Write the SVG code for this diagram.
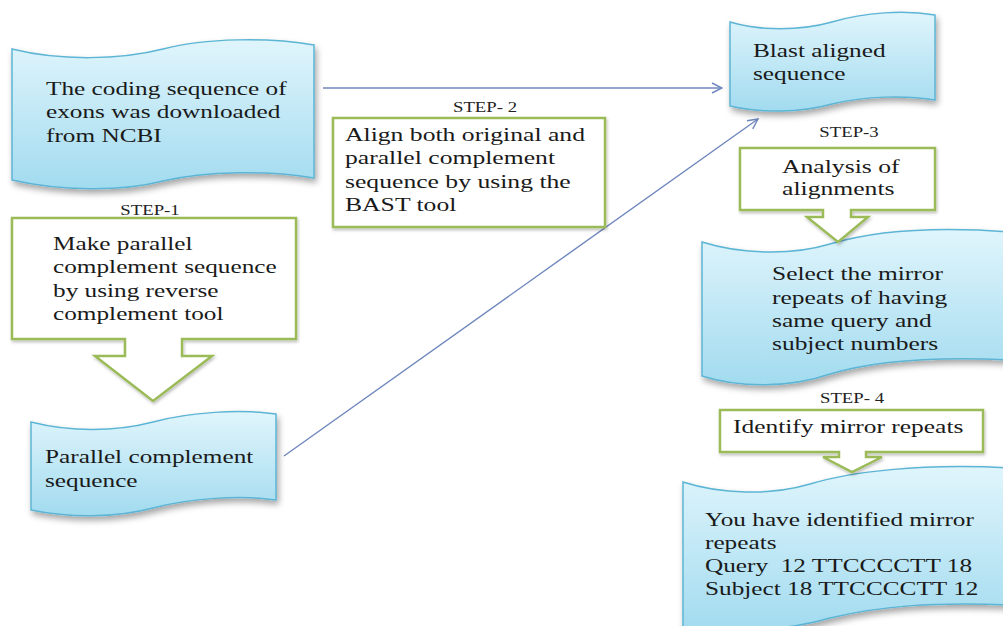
<svg xmlns="http://www.w3.org/2000/svg" width="1003" height="626" viewBox="0 0 1003 626">
<defs>
<linearGradient id="tapeFill" x1="0" y1="0" x2="0" y2="1">
<stop offset="0" stop-color="#e0f5fc"/>
<stop offset="1" stop-color="#a2dbef"/>
</linearGradient>
<filter id="sh" x="-10%" y="-10%" width="130%" height="140%">
<feDropShadow dx="2" dy="4" stdDeviation="3" flood-color="#000" flood-opacity="0.35"/>
</filter>
<filter id="sh2" x="-10%" y="-10%" width="130%" height="140%">
<feDropShadow dx="1" dy="2" stdDeviation="1.5" flood-color="#000" flood-opacity="0.25"/>
</filter>
<marker id="arr" viewBox="0 0 12 12" refX="11" refY="6" markerWidth="12" markerHeight="12" markerUnits="userSpaceOnUse" orient="auto">
<path d="M1,1 L11,6 L1,11" fill="none" stroke="#6f87bd" stroke-width="1.4"/>
</marker>
</defs>
<style>
.tape{fill:url(#tapeFill);stroke:#5db5d5;stroke-width:1.5;filter:url(#sh)}
.call{fill:#ffffff;stroke:#9bbb59;stroke-width:2.5;filter:url(#sh2)}
.t{font-family:"Liberation Serif","Times New Roman",serif;font-size:19px;fill:#1a1a1a;white-space:pre}
.s{font-family:"Liberation Serif","Times New Roman",serif;font-size:15px;fill:#222;text-anchor:middle}
.c{fill:none;stroke:#6f87bd;stroke-width:1.4}
</style>
<rect width="1003" height="626" fill="#ffffff"/>

<g id="connectors">
<path class="c" d="M323,88 L722,88" marker-end="url(#arr)"/>
<path class="c" d="M284,456 L758,119" marker-end="url(#arr)"/>
</g>

<g id="node1">
<path class="tape" d="M12,49 C60,61 120,60 163,49 C205,38 270,37 314,45 L314,178 C270,170 205,171 163,181 C120,192 60,191 12,180 Z"/>
<text class="t" transform="matrix(1.33 0 0 1 46 0)"><tspan x="0" y="95">The coding sequence of</tspan><tspan x="0" y="118.5">exons was downloaded</tspan><tspan x="0" y="142">from NCBI</tspan></text>
</g>

<g id="step1">
<text class="s" transform="matrix(1.25 0 0 1 150 0)" x="0" y="215">STEP-1</text>
</g>

<g id="node2">
<path class="call" d="M12,218 H296 V339 H182 V356 H212 L153,401 L95,356 H125 V339 H12 Z"/>
<text class="t" transform="matrix(1.33 0 0 1 53 0)"><tspan x="0" y="250">Make parallel</tspan><tspan x="0" y="273.5">complement sequence</tspan><tspan x="0" y="297">by using reverse</tspan><tspan x="0" y="320.5">complement tool</tspan></text>
</g>

<g id="node3">
<path class="tape" d="M31,422 C70,432 115,432 153,422 C190,412 240,409 276,414 L276,500 C240,495 190,498 153,508 C115,518 70,518 31,510 Z"/>
<text class="t" transform="matrix(1.33 0 0 1 45 0)"><tspan x="0" y="463">Parallel complement</tspan><tspan x="0" y="487">sequence</tspan></text>
</g>

<g id="step2">
<text class="s" transform="matrix(1.25 0 0 1 485 0)" x="0" y="112">STEP- 2</text>
</g>

<g id="node4">
<rect class="call" x="333" y="118" width="272" height="109"/>
<text class="t" transform="matrix(1.35 0 0 1 345 0)"><tspan x="0" y="141">Align both original and</tspan><tspan x="0" y="164.5">parallel complement</tspan><tspan x="0" y="188">sequence by using the</tspan><tspan x="0" y="211.5">BAST tool</tspan></text>
</g>

<g id="node5">
<path class="tape" d="M730,22 C760,31 800,31 832,22 C865,12 905,10 935,15 L935,100 C905,95 865,96 832,104 C800,113 760,113 730,106 Z"/>
<text class="t" transform="matrix(1.33 0 0 1 753 0)"><tspan x="0" y="57">Blast aligned</tspan><tspan x="0" y="80">sequence</tspan></text>
</g>

<g id="step3">
<text class="s" transform="matrix(1.25 0 0 1 849 0)" x="0" y="137">STEP-3</text>
</g>

<g id="node7">
<path class="tape" d="M702,242 C740,254 790,256 830,244 C870,232 930,226 1010,232 L1010,360 C930,356 870,362 830,374 C790,388 740,388 702,376 Z"/>
<text class="t" transform="matrix(1.34 0 0 1 772 0)"><tspan x="0" y="280">Select the mirror</tspan><tspan x="0" y="304">repeats of having</tspan><tspan x="0" y="327">same query and</tspan><tspan x="0" y="350">subject numbers</tspan></text>
</g>

<g id="node6">
<path class="call" d="M740,148 H935 V210 H851 V217 H868 L838,242 L807,217 H823 V210 H740 Z"/>
<text class="t" transform="matrix(1.35 0 0 1 782 0)"><tspan x="0" y="173">Analysis of</tspan><tspan x="0" y="195">alignments</tspan></text>
</g>

<g id="step4">
<text class="s" transform="matrix(1.25 0 0 1 852 0)" x="0" y="403">STEP- 4</text>
</g>

<g id="node9">
<path class="tape" d="M683,482 C720,494 770,496 810,484 C850,472 920,463 1010,468 L1010,605 C930,602 880,606 830,618 C790,630 730,634 683,628 Z"/>
<text class="t" transform="matrix(1.33 0 0 1 705 0)"><tspan x="0" y="526">You have identified mirror</tspan><tspan x="0" y="549">repeats</tspan><tspan x="0" y="572">Query  12 TTCCCCTT 18</tspan><tspan x="0" y="595">Subject 18 TTCCCCTT 12</tspan></text>
</g>

<g id="node8">
<path class="call" d="M720,410 H983 V452 H866 V457 H882 L852,472 L823,457 H839 V452 H720 Z"/>
<text class="t" transform="matrix(1.34 0 0 1 733 0)" x="0" y="433">Identify mirror repeats</text>
</g>
</svg>
